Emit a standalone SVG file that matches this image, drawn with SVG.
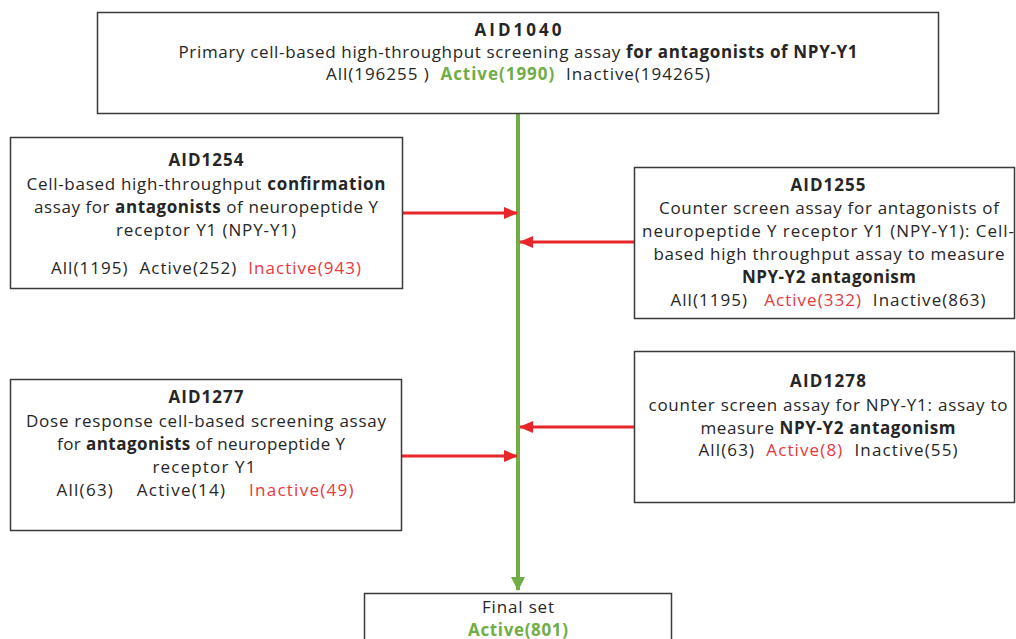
<svg xmlns="http://www.w3.org/2000/svg" width="1016" height="639" viewBox="0 0 1016 639">
<style>
.box{fill:#fff;stroke:#3a3a3a;stroke-width:1.5}
text{font-family:"Open Sans","Noto Sans",sans-serif;font-size:17px;fill:#262626;text-anchor:middle}
.b{font-weight:bold}
.g{fill:#70ad47;font-weight:bold}
.r{fill:#e8383d}
.red{stroke:#e8262a;stroke-width:3;fill:none}
.grn{stroke:#70ad47;stroke-width:4;fill:none}
</style>
<defs>
<marker id="ra" markerWidth="14" markerHeight="12" refX="13" refY="6" orient="auto" markerUnits="userSpaceOnUse"><path d="M0,0 L14,6 L0,12 Z" fill="#e8262a"/></marker>
<marker id="ga" markerWidth="14" markerHeight="14" refX="13" refY="7" orient="auto" markerUnits="userSpaceOnUse"><path d="M0,0 L14,7 L0,14 Z" fill="#70ad47"/></marker>
</defs>
<rect width="1016" height="639" fill="#fff"/>
<g id="connectors">
<line class="grn" x1="518" y1="114" x2="518" y2="590" marker-end="url(#ga)"/>
<line class="red" x1="403" y1="213" x2="517" y2="213" marker-end="url(#ra)"/>
<line class="red" x1="634" y1="242" x2="520" y2="242" marker-end="url(#ra)"/>
<line class="red" x1="634" y1="427" x2="520" y2="427" marker-end="url(#ra)"/>
<line class="red" x1="402" y1="456" x2="517" y2="456" marker-end="url(#ra)"/>
</g>
<g id="aid1040">
<rect class="box" x="97.5" y="12.5" width="841" height="101"/>
<text x="518" y="36" class="b" textLength="87">AID1040</text>
<text x="518" y="58" textLength="679">Primary cell-based high-throughput screening assay <tspan class="b">for antagonists of NPY-Y1</tspan></text>
<text x="518" y="80" textLength="384" xml:space="preserve">All(196255 )  <tspan class="g">Active(1990)</tspan>  Inactive(194265)</text>
</g>
<g id="aid1254">
<rect class="box" x="10.5" y="137.5" width="392" height="151"/>
<text x="206" y="166" class="b" textLength="75">AID1254</text>
<text x="206" y="190" textLength="359">Cell-based high-throughput <tspan class="b">confirmation</tspan></text>
<text x="206" y="213" textLength="344">assay for <tspan class="b">antagonists</tspan> of neuropeptide Y</text>
<text x="206" y="236" textLength="180">receptor Y1 (NPY-Y1)</text>
<text x="206" y="274" textLength="310" xml:space="preserve">All(1195)  Active(252)  <tspan class="r">Inactive(943)</tspan></text>
</g>
<g id="aid1255">
<rect class="box" x="634.5" y="167.5" width="380" height="151"/>
<text x="828" y="191" class="b" textLength="75">AID1255</text>
<text x="829" y="214" textLength="340">Counter screen assay for antagonists of</text>
<text x="828" y="237" textLength="372">neuropeptide Y receptor Y1 (NPY-Y1): Cell-</text>
<text x="829" y="260" textLength="351">based high throughput assay to measure</text>
<text x="829" y="283" class="b" textLength="174">NPY-Y2 antagonism</text>
<text x="828" y="306" textLength="315" xml:space="preserve">All(1195)   <tspan class="r">Active(332)</tspan>  Inactive(863)</text>
</g>
<g id="aid1277">
<rect class="box" x="10.5" y="379.5" width="391" height="151"/>
<text x="206" y="403" class="b" textLength="75">AID1277</text>
<text x="206" y="427" textLength="360">Dose response cell-based screening assay</text>
<text x="201" y="450" textLength="288">for <tspan class="b">antagonists</tspan> of neuropeptide Y</text>
<text x="204" y="473" textLength="103">receptor Y1</text>
<text x="205" y="496" textLength="297" xml:space="preserve">All(63)    Active(14)    <tspan class="r">Inactive(49)</tspan></text>
</g>
<g id="aid1278">
<rect class="box" x="634.5" y="351.5" width="380" height="151"/>
<text x="828" y="387" class="b" textLength="76">AID1278</text>
<text x="828" y="411" textLength="359">counter screen assay for NPY-Y1: assay to</text>
<text x="828" y="434" textLength="255">measure <tspan class="b">NPY-Y2 antagonism</tspan></text>
<text x="828" y="456" textLength="259" xml:space="preserve">All(63)  <tspan class="r">Active(8)</tspan>  Inactive(55)</text>
</g>
<g id="final">
<rect class="box" x="364.5" y="593.5" width="307" height="60"/>
<text x="518" y="613" textLength="72">Final set</text>
<text x="518" y="636" class="g" textLength="100">Active(801)</text>
</g>
</svg>
